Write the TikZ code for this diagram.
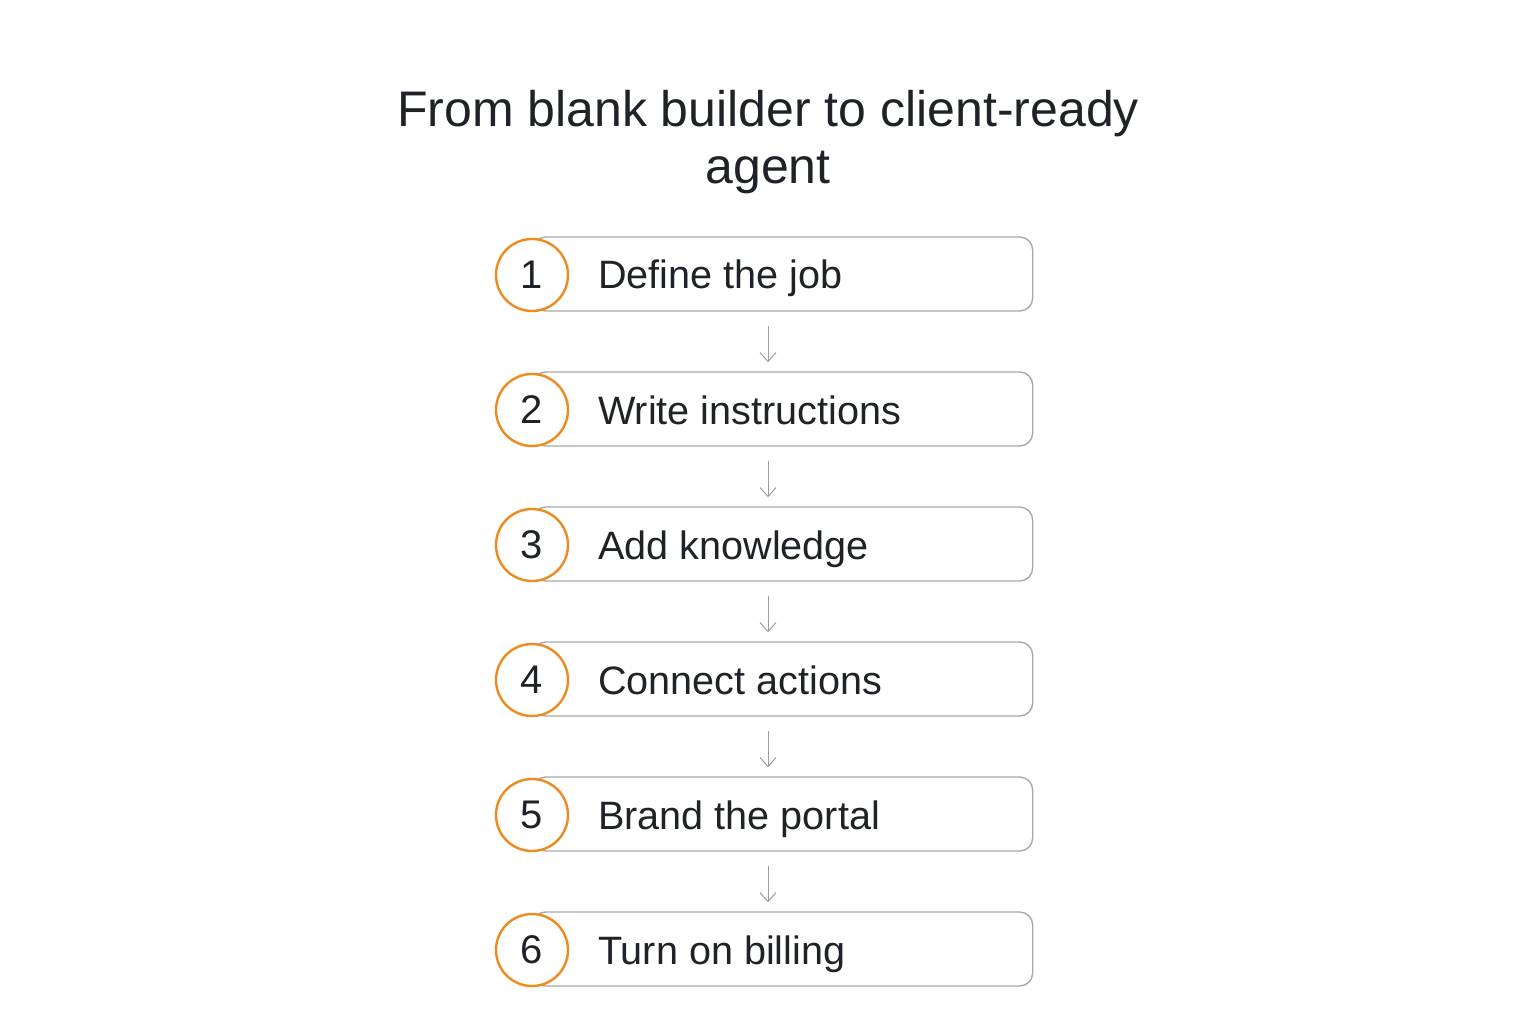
\documentclass[tikz,border=0pt]{standalone}
\usepackage{fontspec}
\setmainfont{Liberation Sans}
\usetikzlibrary{arrows.meta}
\definecolor{txt}{HTML}{1F2328}
\definecolor{orng}{HTML}{EE8A1E}
\definecolor{boxline}{HTML}{A8A8A8}
\definecolor{arr}{HTML}{9E9E9E}
\begin{document}
\begin{tikzpicture}[x=1pt,y=-1pt,
  stepbox/.style={draw=boxline,line width=1.4pt,rounded corners=13pt,fill=white,minimum width=500pt,minimum height=74pt,anchor=west,inner sep=0pt},
  numcirc/.style={circle,draw=orng,line width=2.4pt,fill=white,minimum size=72pt,inner sep=0pt,font=\fontsize{40}{48}\selectfont,text=txt},
  steplabel/.style={anchor=base west,font=\fontsize{39.6}{47}\selectfont,text=txt,inner sep=0pt},
  flow/.style={draw=arr,line width=1pt,-{Straight Barb[length=9pt,width=16pt]}}
]
\useasboundingbox (0,0) rectangle (1536,1024);
\node[font=\fontsize{50}{57}\selectfont,text=txt,align=center,anchor=base] (title) at (768,184) {From blank builder to client-ready\\agent};
\foreach \i/\t in {1/Define the job,2/Write instructions,3/Add knowledge,4/Connect actions,5/Brand the portal,6/Turn on billing}{
  \pgfmathsetmacro{\yy}{274+135*(\i-1)}
  \node[stepbox] (b\i) at (532,\yy) {};
  \node[numcirc] (c\i) at (532,\yy+1) {\i};
  \node[steplabel] (t\i) at (598,\yy+15) {\t};
}
\foreach \i/\j in {1/2,2/3,3/4,4/5,5/6}{
  \draw[flow] ([yshift=-14pt]b\i.south -| 768,0) -- ([yshift=9pt]b\j.north -| 768,0);
}
\end{tikzpicture}
\end{document}
